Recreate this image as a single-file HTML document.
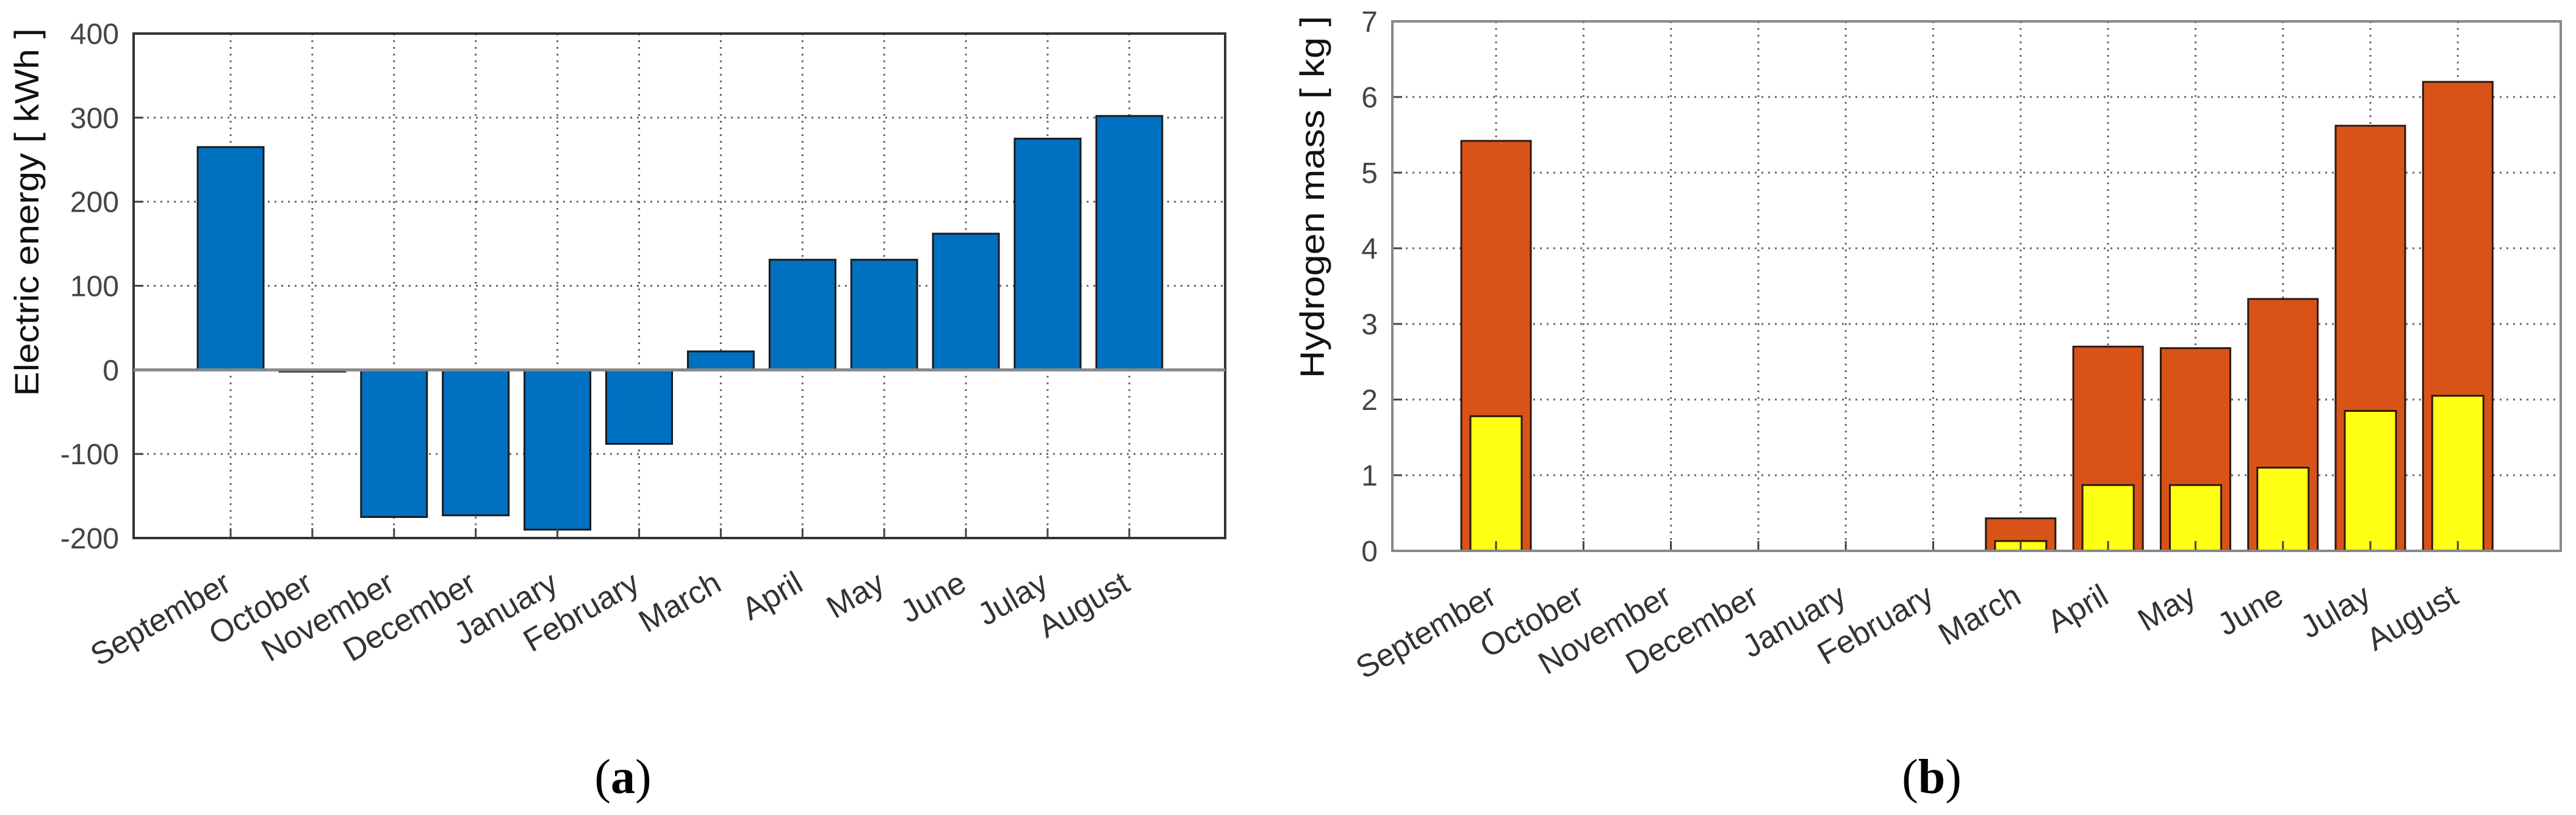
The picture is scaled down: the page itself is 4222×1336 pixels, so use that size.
<!DOCTYPE html>
<html><head><meta charset="utf-8"><style>
html,body{margin:0;padding:0;background:#fff;}
svg{display:block;font-family:"Liberation Sans",sans-serif;}
</style></head><body>
<svg id="svg" width="4222" height="1336" viewBox="0 0 4222 1336" xmlns="http://www.w3.org/2000/svg">
<g id="ga"></g>
<g id="gb"></g>
<text x="1021" y="1300" font-family="Liberation Serif,serif" font-size="80" text-anchor="middle">(<tspan font-weight="bold">a</tspan>)</text>
<text x="3166" y="1300" font-family="Liberation Serif,serif" font-size="80" text-anchor="middle">(<tspan font-weight="bold">b</tspan>)</text>
</svg>
<script>
const months = ["September","October","November","December","January","February","March","April","May","June","Julay","August"];
const energyValues = [265,-2,-175,-173,-190,-88,22,131,131,162,275,302];
const energyTicks = [-200,-100,0,100,200,300,400];
const hydrogenTotal = [5.42,0,0,0,0,0,0.43,2.7,2.68,3.33,5.62,6.2];
const hydrogenPart = [1.78,0,0,0,0,0,0.13,0.87,0.87,1.1,1.85,2.05];
const hydrogenTicks = [0,1,2,3,4,5,6,7];

const NS="http://www.w3.org/2000/svg";
function mk(parent,tag,attrs){const e=document.createElementNS(NS,tag);for(const k in attrs)e.setAttribute(k,attrs[k]);parent.appendChild(e);return e;}

function drawChart(g,cfg){
  const {L,R,T,B,x0,dx,ymin,ymax,ticks}=cfg;
  const ys=v=>B-(v-ymin)/(ymax-ymin)*(B-T);
  const xs=i=>x0+i*dx;
  ticks.forEach(t=>{
    const l=mk(g,'line',{x1:L,x2:R,y1:ys(t),y2:ys(t),stroke:'#666','stroke-width':3,'stroke-dasharray':'3 8'});
    
    
    const tk=mk(g,'line',{x1:L,x2:L+16,y1:ys(t),y2:ys(t),stroke:'#444','stroke-width':3});
    
    
    const tx=mk(g,'text',{x:L-24,y:ys(t)+17,'text-anchor':'end','font-size':48,fill:'#444'});
    tx.textContent=t;
    
    
  });
  months.forEach((m,i)=>{
    const l=mk(g,'line',{x1:xs(i),x2:xs(i),y1:T,y2:B,stroke:'#666','stroke-width':3,'stroke-dasharray':'3 8'});
    
    
  });
  cfg.drawBars(g,xs,ys);
  months.forEach((m,i)=>{
    const tk=mk(g,'line',{x1:xs(i),x2:xs(i),y1:B,y2:B-16,stroke:'#444','stroke-width':3});
    
    
    const x=xs(i)+4, y=B+84;
    const tx=mk(g,'text',{x:x,y:y,'text-anchor':'end','font-size':52,fill:'#333',transform:`rotate(-30 ${x} ${y})`});
    tx.textContent=m;
    
    
  });
  const f=mk(g,'rect',{x:L,y:T,width:R-L,height:B-T,fill:'none',stroke:cfg.axisColor,'stroke-width':4});
  
  
  if(cfg.zeroLine){
    const z=mk(g,'line',{x1:L,x2:R,y1:ys(0),y2:ys(0),stroke:'#888','stroke-width':5});
    
    
  }
  const lx=cfg.labelX, ly=cfg.labelY;
  const lab=mk(g,'text',{x:lx,y:ly,'text-anchor':'middle','font-size':56,fill:'#111',transform:`rotate(-90 ${lx} ${ly})`,textLength:cfg.labelLen,lengthAdjust:'spacingAndGlyphs'});
  lab.textContent=cfg.label;
  
  
}

drawChart(document.getElementById('ga'),{
  L:219,R:2008,T:55,B:882,x0:378,dx:133.9,ymin:-200,ymax:400,ticks:energyTicks,axisColor:'#333',zeroLine:true,
  label:'Electric energy  [ kWh ]',labelX:63,labelY:348,labelLen:603,
  drawBars:(g,xs,ys)=>{
    energyValues.forEach((v,i)=>{
      const y1=Math.min(ys(v),ys(0)),h=Math.max(Math.abs(ys(v)-ys(0)),2);
      const r=mk(g,'rect',{x:xs(i)-54,y:y1,width:108,height:h,fill:'#0070c0',stroke:'#1a1a1a','stroke-width':3});
      
      
    });
  }
});

drawChart(document.getElementById('gb'),{
  L:2282,R:4197,T:35,B:903,x0:2452,dx:143.3,ymin:0,ymax:7,ticks:hydrogenTicks,axisColor:'#888',zeroLine:false,
  label:'Hydrogen mass [ kg ]',labelX:2170,labelY:323,labelLen:594,
  drawBars:(g,xs,ys)=>{
    hydrogenTotal.forEach((v,i)=>{
      if(v<=0)return;
      const r=mk(g,'rect',{x:xs(i)-57,y:ys(v),width:114,height:ys(0)-ys(v),fill:'#d95319',stroke:'#2a1a10','stroke-width':3});
      
      
    });
    hydrogenPart.forEach((v,i)=>{
      if(v<=0)return;
      const r=mk(g,'rect',{x:xs(i)-42,y:ys(v),width:84,height:ys(0)-ys(v),fill:'#ffff14',stroke:'#2a1a10','stroke-width':3});
      
      
    });
  }
});
</script>
</body></html>
